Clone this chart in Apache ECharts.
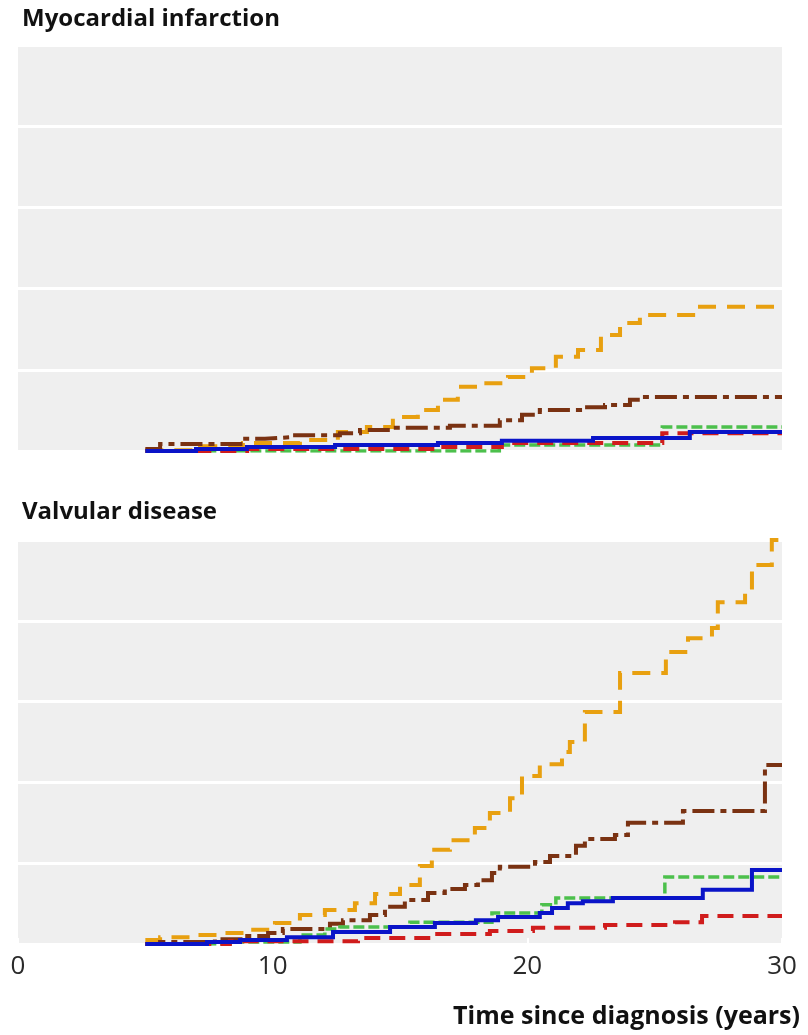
<!DOCTYPE html>
<html>
<head>
<meta charset="utf-8">
<script src="https://cdn.jsdelivr.net/npm/echarts@6/dist/echarts.min.js"></script>
<style>
html,body{margin:0;padding:0;background:#fff;}
#chart{width:808px;height:1035px;}
</style>
</head>
<body>
<div id="chart"></div>
<script>
// Panel titles and axis text
const panelTitles = ['Myocardial infarction', 'Valvular disease'];
const xAxisTitle = 'Time since diagnosis (years)';
const xTicks = [0, 10, 20, 30];

// Myocardial infarction: [time (years), cumulative value]
const miOrange = [[5,0.02],[7.15,0.12],[8.83,0.20],[11.07,0.27],[12.56,0.47],[13.7,0.59],[14.72,0.84],[15.7,1.01],[16.49,1.26],[17.27,1.58],[18.14,1.67],[19.24,1.82],[20.18,2.04],[21.12,2.32],[21.99,2.49],[22.89,2.86],[23.64,3.15],[24.42,3.35],[26.66,3.55],[30,3.55]];
const miBrown = [[5,0.05],[5.58,0.17],[8.83,0.30],[9.7,0.34],[10.68,0.39],[12.64,0.44],[13.43,0.52],[14.61,0.57],[16.96,0.62],[18.92,0.76],[19.79,0.89],[20.49,1.01],[22.07,1.08],[23.05,1.13],[24.03,1.26],[24.5,1.33],[30,1.33]];
const miGreen = [[5,0],[18.9,0.15],[25.3,0.59],[30,0.59]];
const miRed = [[5,0],[9,0.05],[16.5,0.10],[19,0.20],[25.3,0.44],[30,0.44]];
const miBlue = [[5,0],[6.99,0.05],[8.99,0.10],[12.45,0.15],[16.49,0.20],[19.0,0.25],[22.58,0.32],[26.38,0.47],[30,0.47]];

// Valvular disease
const vdOrange = [[5,0.10],[5.58,0.17],[6.75,0.22],[7.93,0.27],[9.11,0.35],[10.09,0.52],[11.07,0.72],[12.05,0.84],[13.23,1.01],[14.02,1.24],[15.0,1.46],[15.78,1.93],[16.25,2.33],[16.96,2.57],[17.94,2.87],[18.53,3.24],[19.32,3.61],[19.79,4.16],[20.49,4.45],[21.36,4.75],[21.67,5.0],[22.26,5.74],[23.64,6.71],[25.44,7.23],[26.31,7.57],[27.25,7.82],[27.48,8.46],[28.55,8.76],[28.82,9.38],[29.6,10.0],[30,10.0]];
const vdBrown = [[5,0],[5.58,0.05],[7.73,0.12],[8.91,0.20],[9.82,0.27],[10.4,0.37],[12.25,0.50],[12.76,0.59],[13.82,0.72],[14.41,0.92],[15.19,1.09],[16.1,1.26],[16.76,1.36],[17.55,1.46],[18.06,1.58],[18.61,1.76],[18.92,1.91],[20.3,2.03],[20.89,2.18],[21.91,2.43],[22.26,2.60],[23.44,2.70],[23.95,3.00],[26.11,3.29],[29.33,4.43],[30,4.43]];
const vdGreen = [[5,0],[8.32,0.05],[11.07,0.22],[12.05,0.37],[12.64,0.42],[15.39,0.54],[18.61,0.77],[20.57,0.97],[21.12,1.14],[25.4,1.66],[30,1.66]];
const vdRed = [[5,0],[8.32,0.07],[13.35,0.15],[16.37,0.25],[18.53,0.32],[20.22,0.40],[23.05,0.47],[25.8,0.54],[26.86,0.69],[30,0.69]];
const vdBlue = [[5,0],[7.42,0.05],[8.72,0.10],[10.56,0.17],[12.37,0.30],[14.61,0.42],[16.37,0.52],[17.98,0.59],[18.85,0.67],[20.49,0.77],[20.97,0.89],[21.59,1.01],[22.18,1.06],[23.36,1.14],[26.89,1.34],[28.82,1.83],[30,1.83]];

const styles = {
  orange: {color:'#E8A010', width:4, type:[18,11]},
  brown:  {color:'#7A3212', width:4, type:[22,6,6,6]},
  green:  {color:'#4CC04C', width:3.5, type:[11,4]},
  red:    {color:'#D01C1C', width:4, type:[16,9]},
  blue:   {color:'#0A14C8', width:4, type:'solid'}
};

function mk(name, data, idx, key) {
  const s = styles[key];
  return {
    name: name, type: 'line', step: 'end', data: data,
    xAxisIndex: idx, yAxisIndex: idx, symbol: 'none', showSymbol: false,
    lineStyle: {color: s.color, width: s.width, type: s.type, cap: 'butt', join: 'miter'},
    itemStyle: {color: s.color}, animation: false, silent: true
  };
}

const chart = echarts.init(document.getElementById('chart'), null, {renderer: 'canvas'});

const gridCommon = {left: 18, right: 26, show: true, backgroundColor: '#EFEFEF', borderWidth: 0};
const yCommon = {
  type: 'value', min: 0, max: 10, interval: 2,
  axisLabel: {show: false}, axisLine: {show: false}, axisTick: {show: false},
  splitLine: {show: true, lineStyle: {color: '#FFFFFF', width: 3}}
};
const xCommon = {
  type: 'value', min: 0, max: 30, interval: 10,
  axisLine: {show: false}, splitLine: {show: false}
};
const titleStyle = {fontFamily: 'Open Sans', fontWeight: 'bold', fontSize: 24, color: '#111'};

chart.setOption({
  animation: false,
  backgroundColor: '#FFFFFF',
  title: [
    {text: panelTitles[0], left: 17, top: 2, textStyle: titleStyle},
    {text: panelTitles[1], left: 17, top: 495, textStyle: titleStyle},
    {text: xAxisTitle, right: 3, top: 999, textStyle: Object.assign({}, titleStyle, {fontSize: 25})}
  ],
  grid: [
    Object.assign({top: 45, height: 406}, gridCommon),
    Object.assign({top: 540, height: 404}, gridCommon)
  ],
  xAxis: [
    Object.assign({gridIndex: 0, axisLabel: {show: false}, axisTick: {show: false}}, xCommon),
    Object.assign({gridIndex: 1,
      axisTick: {show: true, inside: true, length: 6, lineStyle: {color: '#FFFFFF', width: 2}},
      axisLabel: {show: true, margin: 10, fontFamily: 'Open Sans', fontSize: 26, color: '#2a2a2a',
        formatter: function (v) { return xTicks.indexOf(v) >= 0 ? String(v) : ''; }}
    }, xCommon)
  ],
  yAxis: [
    Object.assign({gridIndex: 0}, yCommon),
    Object.assign({gridIndex: 1}, yCommon)
  ],
  series: [
    mk('MI orange', miOrange, 0, 'orange'),
    mk('MI brown', miBrown, 0, 'brown'),
    mk('MI green', miGreen, 0, 'green'),
    mk('MI red', miRed, 0, 'red'),
    mk('MI blue', miBlue, 0, 'blue'),
    mk('VD orange', vdOrange, 1, 'orange'),
    mk('VD brown', vdBrown, 1, 'brown'),
    mk('VD green', vdGreen, 1, 'green'),
    mk('VD red', vdRed, 1, 'red'),
    mk('VD blue', vdBlue, 1, 'blue')
  ]
});
</script>
</body>
</html>
